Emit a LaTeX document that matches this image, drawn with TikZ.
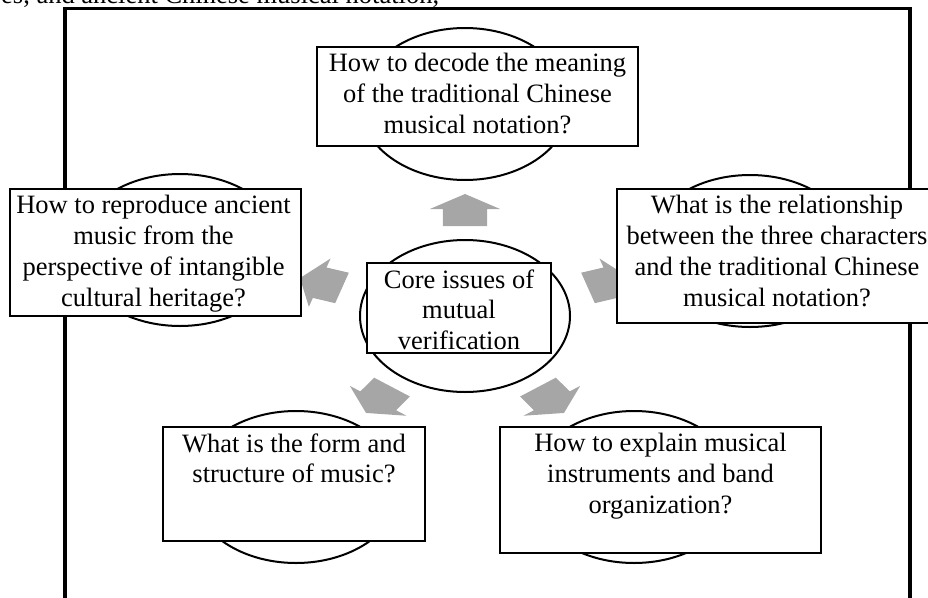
\documentclass[tikz,border=0pt]{standalone}
\usepackage{fontspec}
\setmainfont{Liberation Serif}
\usetikzlibrary{shapes.geometric}
\definecolor{arrowgray}{RGB}{166,166,166}
\tikzset{
  oval/.style={ellipse, draw=black, line width=2pt, fill=white,
    minimum width=210pt, minimum height=152pt, inner sep=0pt},
  qbox/.style={rectangle, draw=black, line width=1.3pt, fill=white, inner sep=0pt},
  qtext/.style={font=\fontsize{26.5}{30.7}\selectfont, align=center, inner sep=0pt, anchor=north},
  frameline/.style={line width=3.5pt, line join=miter},
  garrow/.pic={\fill[arrowgray] (0,16) -- (25.4,1) -- (16,1) -- (16,-16) -- (-16,-16) -- (-16,1) -- (-25.4,1) -- cycle;}
}
\begin{document}
\begin{tikzpicture}[x=1pt,y=1pt]
\useasboundingbox (0,0) rectangle (928,-597);
\clip (0,0) rectangle (928,-597);

% caption fragment at the very top
\node[font=\fontsize{26.5}{30.7}\selectfont, anchor=base west, inner sep=0pt] (cap) at (1,-4) {es, and ancient Chinese musical notation,};

% outer frame
\draw[frameline] (65,-700) -- (65,-8.5) -- (910,-8.5) -- (910,-700);

% ellipses
\node[oval] (ec) at (465,-316) {};
\node[oval] (et) at (465,-104) {};
\node[oval] (el) at (180,-250) {};
\node[oval] (er) at (750,-251) {};
\node[oval] (ebl) at (296,-487) {};
\node[oval] (ebr) at (634,-487) {};

% arrows
\pic[xscale=1.38] at (465,-210) {garrow};
\pic[xscale=1.38, rotate=72] at (321,-283) {garrow};
\pic[xscale=1.38, rotate=-72] at (609,-283) {garrow};
\pic[xscale=1.38, rotate=144] at (379,-400) {garrow};
\pic[xscale=1.38, rotate=-144] at (551,-400) {garrow};

% boxes
\node[qbox, minimum width=321pt, minimum height=99pt] (bt) at (477.5,-96.5) {};
\node[qbox, minimum width=184pt, minimum height=90pt] (bc) at (459,-308) {};
\node[qbox, minimum width=291pt, minimum height=127pt] (bl) at (155.5,-252.5) {};
\node[qbox, minimum width=320pt, minimum height=134pt] (br) at (777,-256) {};
\node[qbox, minimum width=262pt, minimum height=114pt] (bbl) at (294,-484) {};
\node[qbox, minimum width=321pt, minimum height=126pt] (bbr) at (660.5,-490) {};

% texts
\node[qtext] (tt) at ([yshift=-7pt]bt.north) {How to decode the meaning\\of the traditional Chinese\\musical notation?};
\node[qtext] (tc) at ([yshift=-7pt]bc.north) {Core issues of\\mutual\\verification};
\node[qtext] (tl) at ([xshift=-2pt,yshift=-7pt]bl.north) {How to reproduce ancient\\music from the\\perspective of intangible\\cultural heritage?};
\node[qtext] (tr) at ([yshift=-7pt]br.north) {What is the relationship\\between the three characters\\and the traditional Chinese\\musical notation?};
\node[qtext] (tbl) at ([yshift=-7pt]bbl.north) {What is the form and\\structure of music?};
\node[qtext] (tbr) at ([yshift=-7pt]bbr.north) {How to explain musical\\instruments and band\\organization?};
\end{tikzpicture}
\end{document}
